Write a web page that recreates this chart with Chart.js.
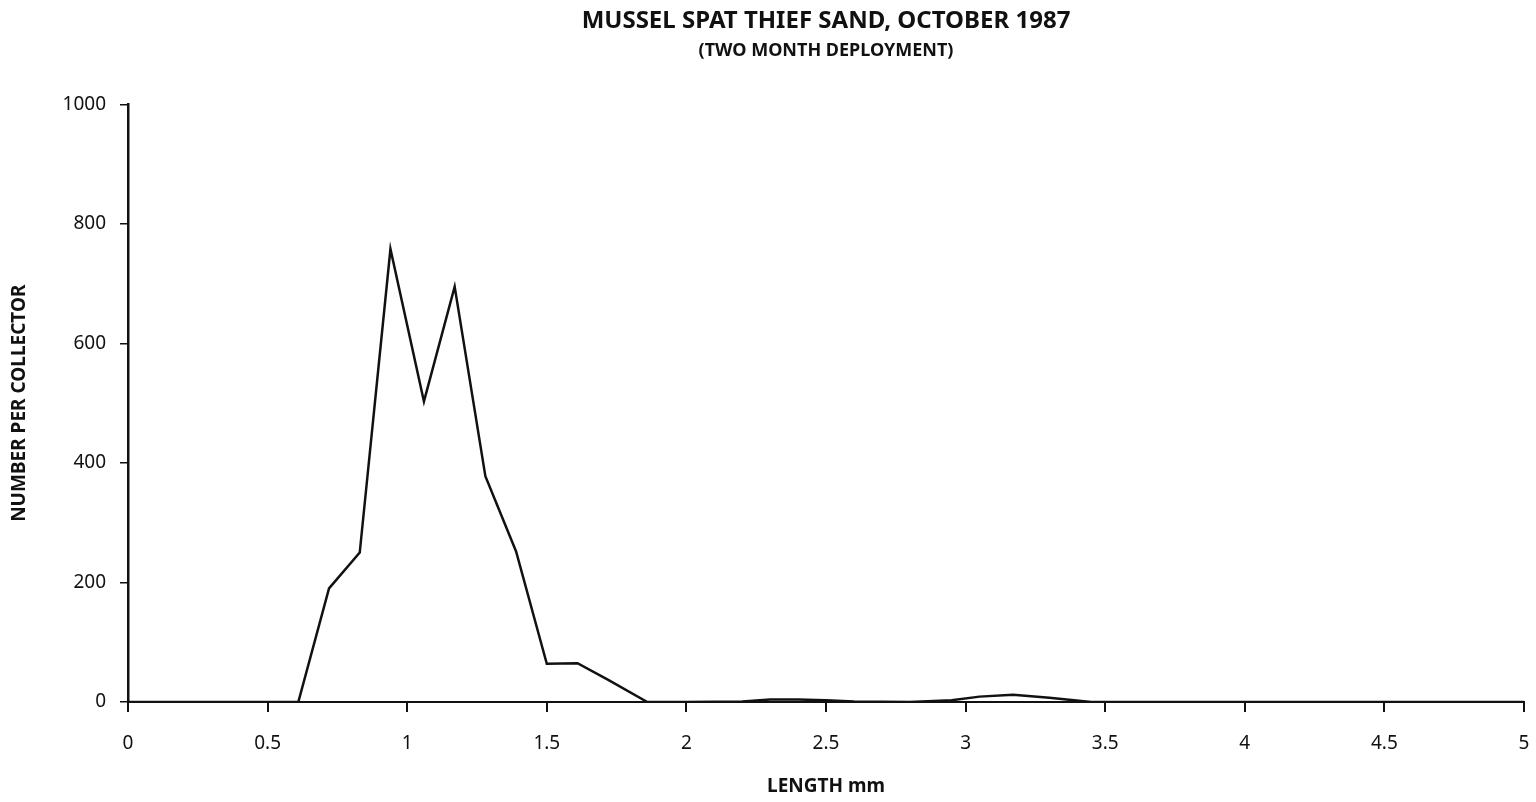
<!DOCTYPE html>
<html>
<head>
<meta charset="utf-8">
<script src="https://cdn.jsdelivr.net/npm/chart.js@4/dist/chart.umd.min.js"></script>
<style>
  html, body { margin: 0; padding: 0; background: #fff; }
  #wrap { width: 1536px; height: 802px; }
</style>
</head>
<body>
<div id="wrap"><canvas id="chart"></canvas></div>
<script>
// spat length classes (mm) and counts per collector
const lengths = [0, 0.61, 0.72, 0.83, 0.94, 1.06, 1.17, 1.28, 1.39, 1.50, 1.61, 1.72, 1.86,
    2.0, 2.2, 2.3, 2.4, 2.5, 2.6, 2.8, 2.95, 3.05, 3.17, 3.3, 3.45, 4.0, 5.0];
const counts = [0, 0, 190, 250, 758, 503, 695, 378, 252, 64, 65, 37, 0,
    0, 1, 4, 4, 3, 1, 0, 3, 9, 12, 7, 0, 0, 0];
const yTicks = [0, 200, 400, 600, 800, 1000];
const xTicks = [0, 0.5, 1, 1.5, 2, 2.5, 3, 3.5, 4, 4.5, 5];

const points = lengths.map((x, i) => ({ x: x, y: counts[i] }));
const ink = "#111";
const fam = "'Noto Sans', 'Liberation Sans', sans-serif";

const ctx = document.getElementById("chart").getContext("2d");
new Chart(ctx, {
    type: "line",
    data: {
        datasets: [{
            data: points,
            borderColor: ink,
            borderWidth: 2.5,
            pointRadius: 0,
            tension: 0,
            fill: false,
        }],
    },
    options: {
        responsive: true,
        maintainAspectRatio: false,
        animation: false,
        layout: { padding: { left: 0, right: 3, top: 0, bottom: 0 } },
        plugins: {
            legend: { display: false },
            tooltip: { enabled: false },
            title: {
                display: true,
                text: "MUSSEL SPAT THIEF SAND, OCTOBER 1987",
                color: ink,
                fullSize: false,
                font: { family: fam, size: 24, weight: "bold" },
                padding: { top: 7, bottom: 4 },
            },
            subtitle: {
                display: true,
                text: "(TWO MONTH DEPLOYMENT)",
                color: ink,
                fullSize: false,
                font: { family: fam, size: 18, weight: "bold" },
                padding: { top: 0, bottom: 43 },
            },
        },
        scales: {
            x: {
                type: "linear",
                min: 0,
                max: 5,
                afterBuildTicks: (axis) => { axis.ticks = xTicks.map(v => ({ value: v })); },
                afterFit: (axis) => {
                    axis.height = 100;
                    axis.paddingLeft = 0;
                    axis.paddingRight = 12;
                },
                grid: { drawOnChartArea: false, tickLength: 10, color: ink, lineWidth: 2 },
                border: { color: ink, width: 2 },
                ticks: {
                    color: ink, padding: 20, font: { family: fam, size: 19 },
                    callback: (v) => String(v),
                },
                title: {
                    display: true,
                    text: "LENGTH mm",
                    color: ink,
                    font: { family: fam, size: 19, weight: "bold" },
                    padding: { top: 8, bottom: 4 },
                },
            },
            y: {
                min: 0,
                max: 1000,
                afterBuildTicks: (axis) => { axis.ticks = yTicks.map(v => ({ value: v })); },
                afterFit: (axis) => { axis.width = 128; },
                grid: { drawOnChartArea: false, tickLength: 8, color: ink, lineWidth: 1.5 },
                border: { color: ink, width: 2.5 },
                ticks: {
                    color: ink, padding: 14, font: { family: fam, size: 19 },
                    callback: (v) => String(v),
                },
                title: {
                    display: true,
                    text: "NUMBER PER COLLECTOR",
                    color: ink,
                    font: { family: fam, size: 19, weight: "bold" },
                    padding: { top: 8, bottom: 0 },
                },
            },
        },
    },
});
</script>
</body>
</html>
